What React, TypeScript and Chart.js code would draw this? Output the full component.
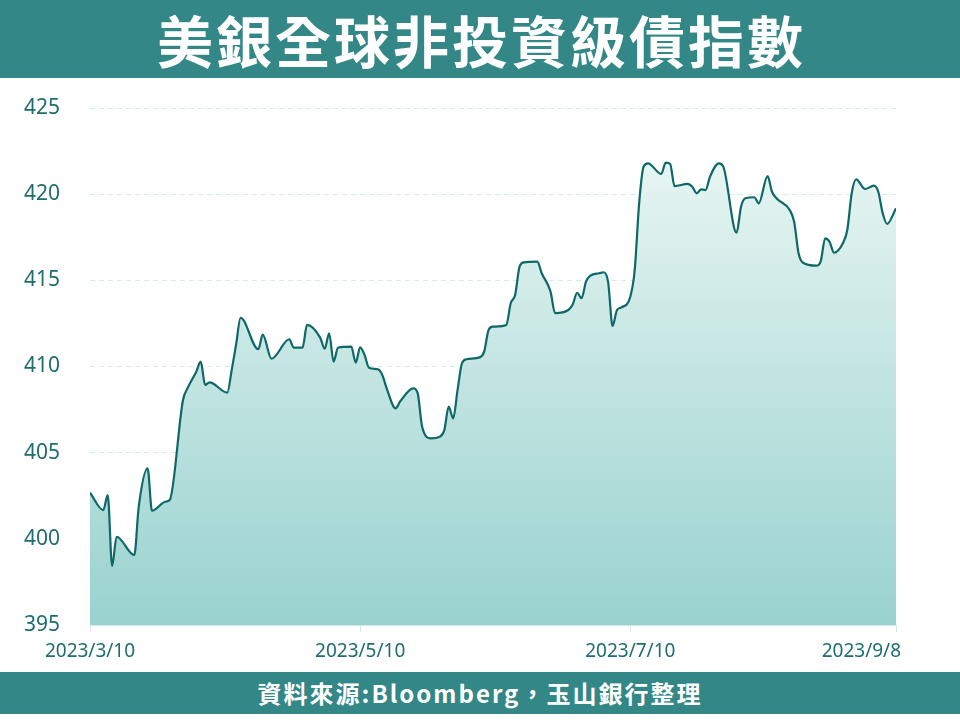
import React, { useEffect, useRef } from 'react';
import { Chart, registerables } from 'chart.js';

Chart.register(...registerables);

const titleText = '美銀全球非投資級債指數';
const sourceText = '資料來源:Bloomberg，玉山銀行整理';

const dates = [
  '2023/3/10', '2023/3/13', '2023/3/14', '2023/3/15', '2023/3/16', '2023/3/20', '2023/3/21', '2023/3/23',
  '2023/3/24', '2023/3/27', '2023/3/28', '2023/3/31', '2023/4/1', '2023/4/3', '2023/4/4', '2023/4/5',
  '2023/4/6', '2023/4/10', '2023/4/11', '2023/4/12', '2023/4/13', '2023/4/17', '2023/4/18', '2023/4/20',
  '2023/4/24', '2023/4/25', '2023/4/27', '2023/4/28', '2023/5/1', '2023/5/2', '2023/5/3', '2023/5/4',
  '2023/5/5', '2023/5/8', '2023/5/9', '2023/5/10', '2023/5/11', '2023/5/12', '2023/5/14', '2023/5/15',
  '2023/5/16', '2023/5/18', '2023/5/19', '2023/5/22', '2023/5/23', '2023/5/24', '2023/5/26', '2023/5/28',
  '2023/5/29', '2023/5/30', '2023/5/31', '2023/6/1', '2023/6/2', '2023/6/3', '2023/6/6', '2023/6/7',
  '2023/6/8', '2023/6/9', '2023/6/12', '2023/6/13', '2023/6/14', '2023/6/15', '2023/6/16', '2023/6/19',
  '2023/6/20', '2023/6/22', '2023/6/23', '2023/6/26', '2023/6/27', '2023/6/28', '2023/6/29', '2023/6/30',
  '2023/7/1', '2023/7/3', '2023/7/4', '2023/7/5', '2023/7/6', '2023/7/7', '2023/7/8', '2023/7/10',
  '2023/7/11', '2023/7/12', '2023/7/13', '2023/7/14', '2023/7/17', '2023/7/18', '2023/7/19', '2023/7/20',
  '2023/7/23', '2023/7/24', '2023/7/25', '2023/7/26', '2023/7/27', '2023/7/28', '2023/7/30', '2023/7/31',
  '2023/8/3', '2023/8/4', '2023/8/5', '2023/8/7', '2023/8/8', '2023/8/10', '2023/8/11', '2023/8/12',
  '2023/8/15', '2023/8/16', '2023/8/17', '2023/8/18', '2023/8/21', '2023/8/22', '2023/8/23', '2023/8/24',
  '2023/8/25', '2023/8/27', '2023/8/28', '2023/8/29', '2023/8/30', '2023/9/1', '2023/9/3', '2023/9/4',
  '2023/9/5', '2023/9/6', '2023/9/8',
];

const values = [
  402.68, 401.67, 402.54, 398.42, 400.12, 399.06, 401.86, 404.09,
  401.63, 402.15, 402.25, 408.06, 408.73, 409.7, 410.28, 408.93,
  409.08, 408.48, 409.8, 411.3, 412.83, 411.0, 411.85, 410.45,
  411.58, 411.1, 411.1, 412.41, 411.66, 411.03, 411.93, 410.28,
  411.09, 411.15, 410.23, 411.11, 410.67, 409.93, 409.84, 409.51,
  408.73, 407.57, 407.96, 408.73, 408.44, 406.5, 405.83, 405.93,
  406.3, 407.67, 406.99, 408.64, 410.19, 410.42, 410.53, 410.86,
  412.12, 412.31, 412.41, 413.67, 414.15, 415.79, 416.04, 416.08,
  415.41, 414.34, 413.1, 413.28, 413.6, 414.28, 413.96, 414.93,
  415.27, 415.41, 415.47, 414.9, 412.35, 413.28, 413.43, 414.05,
  415.6, 419.47, 421.59, 421.79, 421.17, 421.83, 421.75, 420.47,
  420.6, 420.43, 420.05, 420.28, 420.24, 421.01, 421.79, 421.6,
  417.76, 419.27, 419.76, 419.82, 419.47, 421.05, 420.14, 419.76,
  419.08, 418.4, 416.57, 416.02, 415.85, 416.1, 417.44, 417.24,
  416.6, 417.15, 417.92, 420.05, 420.86, 420.3, 420.49, 420.14,
  418.89, 418.27, 419.18,
];

const xTickLabels = ['2023/3/10', '2023/5/10', '2023/7/10', '2023/9/8'];
const yMin = 395;
const yMax = 425;
const yStep = 5;

const START = Date.UTC(2023, 2, 10);
function dayOffset(s: string): number {
  const [y, m, d] = s.split('/').map(Number);
  return Math.round((Date.UTC(y, m - 1, d) - START) / 86400000);
}

const TEAL = '#338787';
const TEXT_TEAL = '#1f6d6d';
const LINE = '#0e6868';

function ChartView() {
  const ref = useRef<HTMLCanvasElement | null>(null);

  useEffect(() => {
    if (!ref.current) return;
    const tickDays = xTickLabels.map(dayOffset);
    const lastDay = dayOffset(dates[dates.length - 1]);

    const xLabelPlugin = {
      id: 'xLabels',
      afterDraw(chart: any) {
        const xs = chart.scales.x;
        const area = chart.chartArea;
        const c = chart.ctx;
        c.save();
        c.font = '19px "Noto Sans", sans-serif';
        c.fillStyle = TEXT_TEAL;
        c.textBaseline = 'middle';
        c.textAlign = 'left';
        xTickLabels.forEach((lab, i) => {
          const px = xs.getPixelForValue(tickDays[i]);
          const w = c.measureText(lab).width;
          let left = px - w / 2;
          if (left + w > area.right + 5) left = area.right + 5 - w;
          c.fillText(lab, left, area.bottom + 27);
        });
        c.restore();
      },
    };

    const chart = new Chart(ref.current, {
      type: 'line',
      data: {
        datasets: [
          {
            data: dates.map((d, i) => ({ x: dayOffset(d), y: values[i] })),
            borderColor: LINE,
            borderWidth: 2.2,
            pointRadius: 0,
            cubicInterpolationMode: 'monotone',
            fill: 'start',
            backgroundColor: (ctx: any) => {
              const ch = ctx.chart;
              const area = ch.chartArea;
              if (!area) return '#c0e4e1';
              const g = ch.ctx.createLinearGradient(0, area.top, 0, area.bottom);
              g.addColorStop(0, '#eff9f6');
              g.addColorStop(1, '#99d2cf');
              return g;
            },
          },
        ],
      },
      options: {
        animation: false,
        responsive: true,
        maintainAspectRatio: false,
        layout: { padding: { top: 30, right: 64, left: 0, bottom: 0 } },
        plugins: {
          legend: { display: false },
          tooltip: { enabled: false },
        },
        scales: {
          x: {
            type: 'linear',
            min: 0,
            max: lastDay,
            afterBuildTicks: (s: any) => {
              s.ticks = tickDays.map((v) => ({ value: v }));
            },
            afterFit: (s: any) => {
              s.height = 47;
              s.paddingLeft = 0;
              s.paddingRight = 0;
            },
            ticks: { display: false },
            grid: {
              drawOnChartArea: false,
              drawTicks: true,
              tickLength: 7,
              color: '#d3e7e5',
            },
            border: { display: true, color: '#d3e7e5', width: 1 },
          },
          y: {
            min: yMin,
            max: yMax,
            afterFit: (s: any) => {
              s.width = 90;
              s.paddingTop = 0;
              s.paddingBottom = 0;
            },
            ticks: {
              stepSize: yStep,
              padding: 30,
              color: TEXT_TEAL,
              font: { size: 21, family: '"Noto Sans", sans-serif' },
            },
            grid: {
              drawTicks: false,
              tickLength: 0,
              color: (ctx: any) => (ctx.tick && ctx.tick.value === yMin ? 'rgba(0,0,0,0)' : '#d2eeea'),
              lineWidth: 1,
            },
            border: { display: false, dash: [5, 4] },
          },
        },
      },
      plugins: [xLabelPlugin],
    } as any);

    return () => chart.destroy();
  }, []);

  return <canvas ref={ref} style={{ display: 'block' }} />;
}

export default function App() {
  return (
    <div style={{ position: 'absolute', left: 0, top: 0, width: 960, height: 720, background: '#fff', overflow: 'hidden' }}>
      <div
        style={{
          position: 'absolute',
          left: 0,
          top: 0,
          width: 960,
          height: 78,
          background: TEAL,
          color: '#fff',
          display: 'flex',
          alignItems: 'center',
          justifyContent: 'center',
          fontFamily: '"Noto Sans CJK TC", "Noto Sans", sans-serif',
          fontWeight: 700,
          fontSize: 56,
          letterSpacing: '3px',
          paddingLeft: 3,
          boxSizing: 'border-box',
          lineHeight: 1,
        }}
      >
        {titleText}
      </div>
      <div style={{ position: 'absolute', left: 0, top: 78, width: 960, height: 594 }}>
        <ChartView />
      </div>
      <div
        style={{
          position: 'absolute',
          left: 0,
          top: 672,
          width: 960,
          height: 42,
          background: TEAL,
          color: '#fff',
          display: 'flex',
          alignItems: 'center',
          justifyContent: 'center',
          fontFamily: '"Noto Sans CJK TC", "Noto Sans", sans-serif',
          fontWeight: 700,
          fontSize: 24,
          letterSpacing: '2px',
          lineHeight: 1,
        }}
      >
        {sourceText}
      </div>
    </div>
  );
}
